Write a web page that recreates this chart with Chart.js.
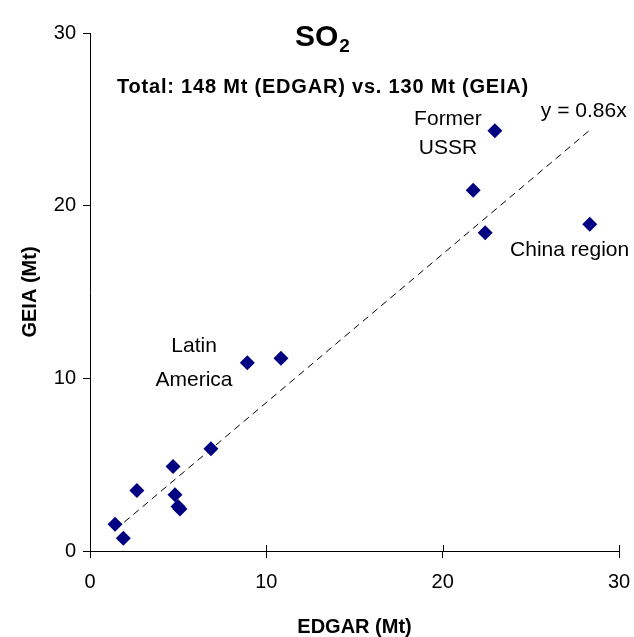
<!DOCTYPE html>
<html>
<head>
<meta charset="utf-8">
<script src="https://cdn.jsdelivr.net/npm/chart.js@4/dist/chart.umd.min.js"></script>
<style>
  html, body { margin: 0; padding: 0; background: #fff; }
  #wrap { width: 634px; height: 637px; }
</style>
</head>
<body>
<div id="wrap"><canvas id="ScatterChart" width="634" height="637"></canvas></div>
<script>
// EDGAR vs GEIA SO2 emissions per region (Mt)
const edgarValues = [1.42, 1.89, 2.66, 4.71, 4.82, 4.99, 5.10, 6.86, 8.92, 10.83, 21.73, 22.41, 22.96, 28.34];
const geiaValues  = [1.55, 0.74, 3.51, 4.90, 3.26, 2.58, 2.43, 5.92, 10.90, 11.16, 20.89, 18.43, 24.34, 18.92];
const trendSlope = 0.86;
const axisTicks = [0, 10, 20, 30];

// text labels placed in data coordinates
const notes = [
  { text: 'Latin', x: 5.9, y: 11.87 },
  { text: 'America', x: 5.9, y: 9.9 },
  { text: 'Former', x: 20.3, y: 25.0 },
  { text: 'USSR', x: 20.3, y: 23.33 },
  { text: 'China region', x: 27.2, y: 17.43 },
  { text: 'y = 0.86x', x: 28.0, y: 25.48 }
];

const FONT = "'Liberation Sans', Arial, sans-serif";

const points = edgarValues.map((x, i) => ({ x: x, y: geiaValues[i] }));
const xMin = Math.min(...edgarValues);
const xMax = Math.max(...edgarValues);
const trend = [
  { x: xMin, y: trendSlope * xMin },
  { x: xMax, y: trendSlope * xMax }
];

// titles, notes and the inner half of the x ticks
const extrasPlugin = {
  id: 'extras',
  afterDraw(chart) {
    const ctx = chart.ctx;
    const xs = chart.scales.x;
    const ys = chart.scales.y;
    ctx.save();
    ctx.fillStyle = '#000';

    // inner tick marks on x axis
    ctx.strokeStyle = '#000';
    ctx.lineWidth = 1;
    axisTicks.slice(1).forEach(v => {
      const px = Math.round(xs.getPixelForValue(v)) + 0.5;
      ctx.beginPath();
      ctx.moveTo(px, ys.bottom);
      ctx.lineTo(px, ys.bottom - 6);
      ctx.stroke();
    });

    // main title SO2
    ctx.textBaseline = 'alphabetic';
    ctx.textAlign = 'left';
    ctx.font = 'bold 30px ' + FONT;
    ctx.fillText('SO', 295, 46);
    const w = ctx.measureText('SO').width;
    ctx.font = 'bold 19px ' + FONT;
    ctx.fillText('2', 295 + w + 1, 52);

    // subtitle
    ctx.font = 'bold 20px ' + FONT;
    ctx.letterSpacing = '0.8px';
    ctx.textBaseline = 'middle';
    ctx.fillText('Total: 148 Mt (EDGAR) vs. 130 Mt (GEIA)', 117, 87);
    ctx.letterSpacing = '0px';

    // notes
    ctx.font = '21px ' + FONT;
    ctx.textAlign = 'center';
    notes.forEach(n => {
      ctx.fillText(n.text, xs.getPixelForValue(n.x), ys.getPixelForValue(n.y));
    });
    ctx.restore();
  }
};

const data = {
  datasets: [
    {
      label: 'Regions',
      data: points,
      showLine: false,
      pointStyle: 'rectRot',
      pointRadius: 7.5,
      pointHoverRadius: 7.5,
      pointBorderWidth: 0,
      backgroundColor: '#000080',
      borderColor: '#000080',
      order: 1
    },
    {
      label: 'Trend',
      type: 'line',
      data: trend,
      borderColor: '#000',
      borderWidth: 1,
      borderDash: [7, 5],
      pointRadius: 0,
      fill: false,
      order: 2
    }
  ]
};

const config = {
  type: 'scatter',
  data: data,
  options: {
    responsive: false,
    animation: false,
    layout: { padding: { top: 33, right: 15, bottom: 0, left: 0 } },
    plugins: {
      legend: { display: false },
      tooltip: { enabled: false }
    },
    scales: {
      x: {
        type: 'linear',
        min: 0,
        max: 30,
        afterBuildTicks: s => { s.ticks = axisTicks.map(v => ({ value: v })); },
        afterFit: s => { s.height = 86; s.paddingLeft = 0; s.paddingRight = 0; },
        grid: { drawOnChartArea: false, tickLength: 7, color: '#000', lineWidth: 1 },
        border: { color: '#000', width: 1 },
        ticks: { color: '#000', padding: 12, font: { family: FONT, size: 20 } },
        title: {
          display: true,
          text: 'EDGAR (Mt)',
          color: '#000',
          font: { family: FONT, size: 20, weight: 'bold', lineHeight: 1 },
          padding: { top: 0, bottom: 0 }
        }
      },
      y: {
        type: 'linear',
        min: 0,
        max: 30,
        afterBuildTicks: s => { s.ticks = axisTicks.map(v => ({ value: v })); },
        afterFit: s => { s.width = 90; s.paddingTop = 0; s.paddingBottom = 0; },
        grid: { drawOnChartArea: false, tickLength: 7, color: '#000', lineWidth: 1 },
        border: { color: '#000', width: 1 },
        ticks: { color: '#000', padding: 7, font: { family: FONT, size: 20 } },
        title: {
          display: true,
          text: 'GEIA (Mt)',
          color: '#000',
          font: { family: FONT, size: 20, weight: 'bold', lineHeight: 1.2 },
          padding: { top: 18, bottom: 0 }
        }
      }
    }
  },
  plugins: [extrasPlugin]
};

const scatterCtx = document.getElementById('ScatterChart').getContext('2d');
new Chart(scatterCtx, config);
</script>
</body>
</html>
